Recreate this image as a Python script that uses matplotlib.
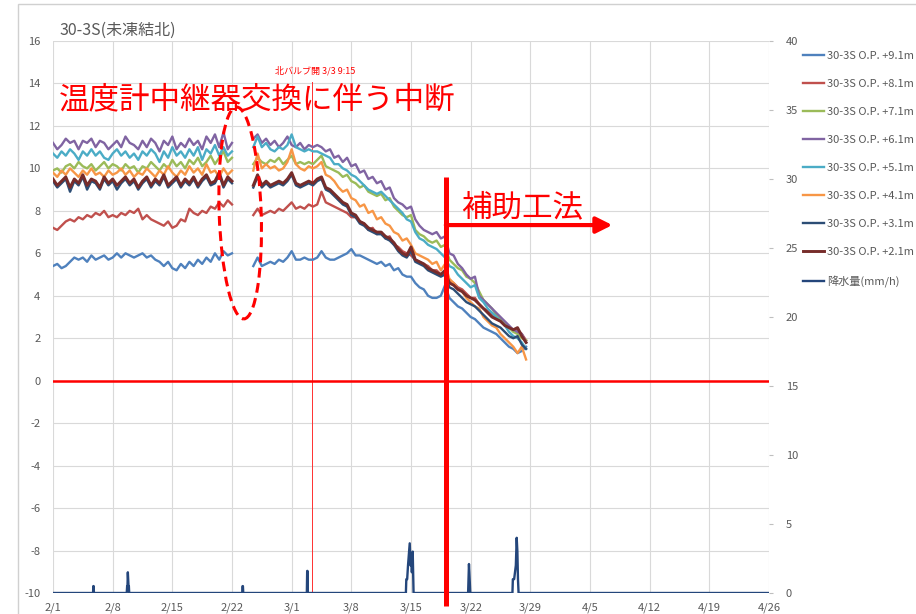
import numpy as np
import pandas as pd
import matplotlib
matplotlib.use("Agg")
import matplotlib.pyplot as plt
import matplotlib.dates as mdates
from matplotlib.patches import Ellipse, Rectangle
from matplotlib.ticker import FuncFormatter
from matplotlib.transforms import IdentityTransform

plt.rcParams['font.family'] = ['Noto Sans CJK JP', 'DejaVu Sans']
plt.rcParams['axes.unicode_minus'] = False

# 地温データ (12時間ごと)。前半 2/1 0:00 から、後半 2/24 12:00 から
seg1_start = pd.Timestamp('2019-02-01 00:00')
seg2_start = pd.Timestamp('2019-02-24 12:00')

labels = ['30-3S O.P. +9.1m', '30-3S O.P. +8.1m', '30-3S O.P. +7.1m', '30-3S O.P. +6.1m',
          '30-3S O.P. +5.1m', '30-3S O.P. +4.1m', '30-3S O.P. +3.1m', '30-3S O.P. +2.1m']
colors = ['#4F81BD', '#C0504D', '#9BBB59', '#8064A2', '#4BACC6', '#F79646', '#2C4D75', '#772C2A']

op91_a = [5.4, 5.5, 5.3, 5.4, 5.6, 5.8, 5.7, 5.8, 5.6, 5.9,
          5.7, 5.8, 5.9, 5.7, 5.8, 6.0, 5.8, 6.0, 5.9, 5.8,
          5.9, 6.0, 5.8, 5.9, 5.7, 5.6, 5.4, 5.6, 5.3, 5.2,
          5.5, 5.3, 5.6, 5.4, 5.7, 5.5, 5.8, 5.6, 6.0, 5.7,
          6.1, 5.9, 6.0]
op91_b = [5.4, 5.8, 5.4, 5.5, 5.6, 5.5, 5.7, 5.6, 5.8, 6.1,
          5.7, 5.7, 5.8, 5.7, 5.7, 5.8, 6.1, 5.8, 5.7, 5.7,
          5.8, 5.9, 6.0, 6.2, 5.9, 5.9, 5.8, 5.7, 5.6, 5.5,
          5.6, 5.4, 5.5, 5.2, 5.3, 5.0, 4.9, 4.9, 4.6, 4.4,
          4.3, 4.0, 3.9, 3.9, 4.0, 4.5, 3.9, 3.7, 3.5, 3.4,
          3.2, 3.0, 2.9, 2.7, 2.5, 2.4, 2.3, 2.2, 2.0, 1.8,
          1.6, 1.5, 1.3, 1.4, 1.6]

op81_a = [7.2, 7.1, 7.3, 7.5, 7.6, 7.5, 7.7, 7.6, 7.8, 7.7,
          7.9, 7.8, 8.0, 7.7, 7.8, 7.7, 7.9, 7.8, 8.0, 7.9,
          8.1, 7.6, 7.8, 7.6, 7.5, 7.4, 7.3, 7.5, 7.2, 7.3,
          7.6, 7.5, 8.1, 7.9, 7.8, 8.0, 7.9, 8.2, 8.1, 8.4,
          8.2, 8.5, 8.3]
op81_b = [7.8, 8.1, 7.8, 7.9, 8.0, 7.9, 8.1, 8.0, 8.2, 8.4,
          8.1, 8.2, 8.1, 8.3, 8.2, 8.3, 8.9, 8.4, 8.3, 8.2,
          8.1, 8.0, 7.9, 7.7, 7.7, 7.5, 7.4, 7.1, 7.2, 6.9,
          7.0, 6.7, 6.8, 6.4, 6.3, 6.1, 6.0, 5.9, 5.7, 5.6,
          5.5, 5.4, 5.2, 5.2, 5.0, 5.1, 4.7, 4.6, 4.4, 4.3,
          4.1, 3.9, 3.9, 3.6, 3.4, 3.3, 3.1, 2.9, 2.8, 2.7,
          2.5, 2.4, 2.4, 2.2, 1.9]

op71_a = [9.9, 10.0, 9.8, 10.1, 10.2, 10.0, 10.3, 10.1, 10.0, 10.2,
          9.9, 10.1, 10.3, 10.0, 10.2, 10.1, 9.9, 10.2, 10.0, 10.1,
          9.8, 10.1, 10.0, 10.3, 10.1, 9.9, 10.2, 10.0, 10.4, 10.1,
          10.3, 10.0, 10.4, 10.2, 10.5, 10.1, 10.3, 10.6, 10.2, 10.5,
          10.8, 10.3, 10.5]
op71_b = [10.2, 10.5, 10.3, 10.2, 10.4, 10.3, 10.5, 10.2, 10.4, 10.6,
          10.2, 10.3, 10.2, 10.3, 10.2, 10.4, 10.6, 10.1, 10.0, 9.9,
          9.8, 9.6, 9.7, 9.4, 9.3, 9.1, 9.2, 8.9, 8.8, 8.7,
          8.8, 8.5, 8.6, 8.2, 8.0, 7.8, 7.7, 7.8, 7.1, 6.9,
          6.8, 6.6, 6.5, 6.6, 6.3, 6.4, 5.7, 5.5, 5.3, 5.2,
          4.9, 4.8, 4.6, 4.2, 3.8, 3.6, 3.4, 3.1, 2.9, 2.7,
          2.5, 2.3, 2.2, 2.0, 1.9]

op61_a = [11.2, 10.9, 11.1, 11.4, 11.2, 11.3, 10.9, 11.3, 11.2, 11.4,
          11.0, 11.3, 11.2, 10.9, 11.1, 11.3, 11.0, 11.5, 11.2, 11.1,
          10.9, 11.3, 11.0, 11.4, 11.2, 10.8, 11.3, 11.1, 11.5, 10.9,
          11.2, 11.0, 11.4, 11.1, 11.3, 10.9, 11.5, 11.2, 11.6, 11.0,
          11.7, 10.9, 11.2]
op61_b = [11.4, 11.6, 11.2, 11.4, 11.1, 11.3, 11.0, 11.2, 11.5, 11.1,
          11.0, 11.2, 10.9, 11.1, 11.0, 11.1, 11.0, 10.8, 10.9, 10.5,
          10.6, 10.3, 10.5, 10.1, 10.2, 9.8, 9.9, 9.5, 9.6, 9.3,
          9.4, 9.0, 9.1, 8.6, 8.4, 8.3, 8.1, 8.2, 7.6, 7.3,
          7.1, 7.0, 6.9, 7.0, 6.7, 6.8, 6.0, 5.9, 5.5, 5.3,
          5.0, 4.8, 4.9, 4.0, 3.8, 3.6, 3.4, 3.2, 3.0, 2.8,
          2.6, 2.4, 2.3, 2.2, 1.8]

op51_a = [10.7, 10.5, 10.8, 10.6, 10.9, 10.7, 10.4, 10.8, 10.6, 10.9,
          10.6, 10.8, 10.5, 10.4, 10.7, 10.9, 10.6, 10.8, 10.5, 10.7,
          10.4, 10.8, 10.6, 10.9, 10.7, 10.3, 10.8, 10.5, 11.0, 10.6,
          10.8, 10.5, 10.9, 10.6, 11.0, 10.4, 10.9, 10.7, 11.1, 10.6,
          11.0, 10.6, 10.8]
op51_b = [11.0, 11.5, 11.0, 11.2, 10.9, 10.8, 11.0, 10.9, 11.1, 11.6,
          11.0, 10.9, 10.8, 10.9, 10.8, 10.8, 10.7, 10.6, 10.5, 10.2,
          10.2, 10.0, 9.9, 9.7, 9.6, 9.4, 9.2, 9.0, 8.9, 8.8,
          8.9, 8.7, 8.5, 8.3, 8.1, 7.9, 7.6, 7.5, 7.0, 6.7,
          6.6, 6.4, 6.3, 6.2, 6.0, 5.8, 5.4, 5.3, 5.0, 4.8,
          4.6, 4.4, 4.5, 3.9, 3.7, 3.4, 3.2, 3.0, 2.8, 2.6,
          2.3, 2.1, 2.0, 1.8, 1.5]

op41_a = [9.8, 9.6, 9.9, 9.7, 10.0, 9.8, 9.6, 9.9, 9.7, 10.0,
          9.7, 9.8, 9.6, 9.9, 9.7, 9.8, 10.0, 9.7, 9.9, 9.6,
          9.8, 9.7, 10.0, 9.8, 9.6, 9.9, 9.7, 10.1, 9.8, 9.6,
          9.9, 9.7, 10.1, 9.8, 10.0, 9.7, 10.2, 9.8, 9.9, 9.6,
          10.0, 9.7, 9.9]
op41_b = [9.9, 10.7, 10.0, 10.2, 10.0, 10.1, 9.9, 10.0, 10.3, 10.9,
          10.2, 10.0, 9.9, 10.1, 10.0, 10.1, 10.3, 9.7, 9.6, 9.4,
          9.1, 8.9, 9.0, 8.6, 8.5, 8.2, 8.3, 7.9, 8.0, 7.6,
          7.7, 7.4, 7.3, 7.0, 6.9, 6.6, 6.7, 6.4, 6.0, 5.9,
          5.8, 5.7, 5.5, 5.6, 5.2, 5.5, 4.8, 4.6, 4.3, 4.2,
          3.9, 3.7, 3.5, 3.4, 3.0, 2.8, 2.6, 2.5, 2.2, 2.0,
          1.8, 1.6, 1.3, 1.6, 1.0]

op31_a = [9.4, 9.1, 9.3, 9.5, 8.9, 9.4, 9.2, 9.6, 9.0, 9.4,
          9.3, 9.0, 9.5, 9.2, 9.4, 9.0, 9.3, 9.5, 9.2, 9.4,
          9.0, 9.3, 9.5, 9.1, 9.4, 9.2, 9.6, 9.1, 9.3, 9.5,
          9.1, 9.4, 9.2, 9.5, 9.1, 9.4, 9.6, 9.2, 9.3, 9.7,
          9.1, 9.5, 9.3]
op31_b = [9.1, 9.6, 9.1, 9.3, 9.1, 9.2, 9.3, 9.2, 9.4, 9.7,
          9.2, 9.1, 9.2, 9.3, 9.2, 9.4, 9.5, 9.0, 8.9, 8.7,
          8.5, 8.3, 8.2, 7.8, 7.7, 7.4, 7.3, 7.1, 7.0, 6.9,
          6.9, 6.7, 6.6, 6.4, 6.1, 5.9, 5.8, 6.1, 5.6, 5.5,
          5.4, 5.2, 5.1, 5.0, 4.9, 5.0, 4.4, 4.3, 4.1, 3.9,
          3.7, 3.6, 3.5, 3.3, 3.1, 2.9, 2.7, 2.6, 2.5, 2.3,
          2.1, 2.0, 2.1, 1.7, 1.5]

op21_a = [9.5, 9.2, 9.4, 9.6, 9.1, 9.5, 9.3, 9.7, 9.2, 9.5,
          9.4, 9.1, 9.6, 9.3, 9.5, 9.2, 9.4, 9.6, 9.3, 9.5,
          9.1, 9.4, 9.6, 9.2, 9.5, 9.3, 9.7, 9.2, 9.4, 9.6,
          9.2, 9.5, 9.3, 9.6, 9.2, 9.5, 9.7, 9.3, 9.4, 9.8,
          9.2, 9.6, 9.4]
op21_b = [9.2, 9.7, 9.2, 9.4, 9.2, 9.3, 9.4, 9.3, 9.5, 9.8,
          9.3, 9.2, 9.3, 9.4, 9.3, 9.5, 9.6, 9.1, 9.0, 8.8,
          8.6, 8.4, 8.3, 7.9, 7.8, 7.5, 7.4, 7.2, 7.1, 7.0,
          7.0, 6.8, 6.7, 6.5, 6.2, 6.0, 5.9, 6.3, 5.7, 5.6,
          5.5, 5.3, 5.2, 5.1, 5.0, 5.2, 4.6, 4.5, 4.3, 4.2,
          4.0, 3.9, 3.8, 3.6, 3.4, 3.2, 3.0, 2.9, 2.8, 2.6,
          2.5, 2.4, 2.5, 2.1, 1.8]

series = [(op91_a, op91_b), (op81_a, op81_b), (op71_a, op71_b), (op61_a, op61_b),
          (op51_a, op51_b), (op41_a, op41_b), (op31_a, op31_b), (op21_a, op21_b)]

# 降水量 (2/1からの経過日数, mm/h)
rain_day = [0.0,
            4.70, 4.73, 4.77, 4.80,
            8.65, 8.70, 8.74, 8.78, 8.82, 8.86, 8.90, 8.94,
            22.20, 22.24, 22.28, 22.32,
            29.78, 29.82, 29.86, 29.90,
            41.40, 41.45, 41.55, 41.65, 41.85, 41.95, 42.05, 42.10, 42.20, 42.30,
            48.70, 48.80, 48.85, 48.95,
            53.90, 53.95, 54.10, 54.30, 54.40, 54.48, 54.55, 54.62,
            84.0]
rain_mm = [0.0,
           0.0, 0.5, 0.5, 0.0,
           0.0, 0.5, 0.5, 1.5, 1.0, 0.5, 0.5, 0.0,
           0.0, 0.5, 0.5, 0.0,
           0.0, 1.6, 1.6, 0.0,
           0.0, 1.0, 1.0, 2.0, 3.6, 2.0, 2.5, 1.5, 3.0, 0.0,
           0.0, 2.1, 1.5, 0.0,
           0.0, 1.0, 1.0, 2.0, 4.0, 3.0, 1.0, 0.0,
           0.0]

valve_open = pd.Timestamp('2019-03-03 09:15')
aux_start = pd.Timestamp('2019-03-19 02:00')
x_start = pd.Timestamp('2019-02-01')
x_end = pd.Timestamp('2019-04-26')

red = '#FF0000'
grey = '#595959'


def join_segments(a, b):
    t_a = seg1_start + pd.to_timedelta(np.arange(len(a)) * 12, unit='h')
    t_b = seg2_start + pd.to_timedelta(np.arange(len(b)) * 12, unit='h')
    t_gap = t_a[-1] + pd.Timedelta(hours=1)
    t = t_a.append(pd.DatetimeIndex([t_gap])).append(t_b)
    v = np.concatenate([a, [np.nan], b])
    return t, v


fig = plt.figure(figsize=(9.16, 6.14), dpi=100)
fig.add_artist(Rectangle((18 / 916, -0.02), 1.0, 1 - 4 / 614 + 0.02, transform=fig.transFigure,
                         fill=False, edgecolor='#D0D0D0', lw=1.0))

ax = fig.add_axes([53 / 916, 1 - 593 / 614, (769 - 53) / 916, (593 - 41) / 614])
ax2 = ax.twinx()

handles = []
for (a, b), lab, c in zip(series, labels, colors):
    t, v = join_segments(a, b)
    lw = 2.1 if c == '#772C2A' else 1.7
    h, = ax.plot(t, v, color=c, lw=lw, label=lab)
    handles.append(h)

rain_t = x_start + pd.to_timedelta(rain_day, unit='D')
hr, = ax2.plot(rain_t, rain_mm, color='#24467B', lw=1.7, label='降水量(mm/h)')
handles.append(hr)

# 北バルブ開、0℃ライン
ax.plot([valve_open, valve_open], [14.05, -10], color='#FF3030', lw=0.7, zorder=1)
ax.axhline(0, color=red, lw=1.8, zorder=1)

ax.set_xlim(x_start, x_end)
ax.set_ylim(-10, 16)
ax2.set_ylim(0, 40)
ax.set_yticks(np.arange(-10, 17, 2))
ax2.set_yticks(np.arange(0, 41, 5))
ax.set_xticks(pd.date_range(x_start, x_end, freq='7D'))
ax.xaxis.set_major_formatter(FuncFormatter(lambda v, p: f"{mdates.num2date(v).month}/{mdates.num2date(v).day}"))

ax.grid(True, color='#D9D9D9', lw=0.8)
ax.set_axisbelow(True)
for a_ in (ax, ax2):
    for s in a_.spines.values():
        s.set_visible(False)
ax.tick_params(axis='both', length=0, labelsize=8, labelcolor=grey)
ax.tick_params(axis='y', pad=9)
ax.tick_params(axis='x', pad=7)
ax2.tick_params(axis='y', length=3, color='#BFBFBF', labelsize=8, labelcolor=grey, pad=9)

# 補助工法の開始ライン
ax2.plot([aux_start, aux_start], [9.6, -10.6], color=red, lw=3.6, solid_capstyle='butt',
         transform=ax.transData, clip_on=False)
xs = mdates.date2num(aux_start)
ax2.annotate('', xy=(mdates.date2num(pd.Timestamp('2019-04-07 15:00')), 7.33), xytext=(xs, 7.33),
             xycoords=ax.transData, textcoords=ax.transData,
             arrowprops=dict(arrowstyle='-|>', color=red, lw=3.0, mutation_scale=24, shrinkA=0, shrinkB=0))
ax2.text(mdates.date2num(pd.Timestamp('2019-03-20 21:00')), 8.15, '補助工法', transform=ax.transData,
         fontsize=22, color=red, va='center', ha='left')

# 中継器交換による欠測区間
cx, cy = ax.transData.transform((mdates.date2num(pd.Timestamp('2019-02-22 23:00')), 7.9))
ell = Ellipse((cx, cy), 42, 212, angle=2, transform=IdentityTransform(), fill=False,
              edgecolor=red, lw=2.2, linestyle=(0, (3.2, 1.8)), clip_on=False)
ax2.add_patch(ell)

ax2.text(mdates.date2num(pd.Timestamp('2019-03-03 18:00')), 14.6, '北バルブ開 3/3 9:15',
         transform=ax.transData, fontsize=6.5, color=red, ha='center', va='center')
fig.text(59 / 916, 1 - 100 / 614, '温度計中継器交換に伴う中断', fontsize=22, color=red, va='center')
fig.text(60 / 916, 1 - 30 / 614, '30-3S(未凍結北)', fontsize=11.5, color=grey, va='center')

leg = fig.legend(handles, [h.get_label() for h in handles], loc='upper left',
                 bbox_to_anchor=(803 / 916, 1 - 51 / 614), frameon=False, fontsize=8,
                 handlelength=1.9, handletextpad=0.3, labelspacing=1.62, borderpad=0, borderaxespad=0)
for txt in leg.get_texts():
    txt.set_color(grey)

fig.savefig('out.png', dpi=100)
